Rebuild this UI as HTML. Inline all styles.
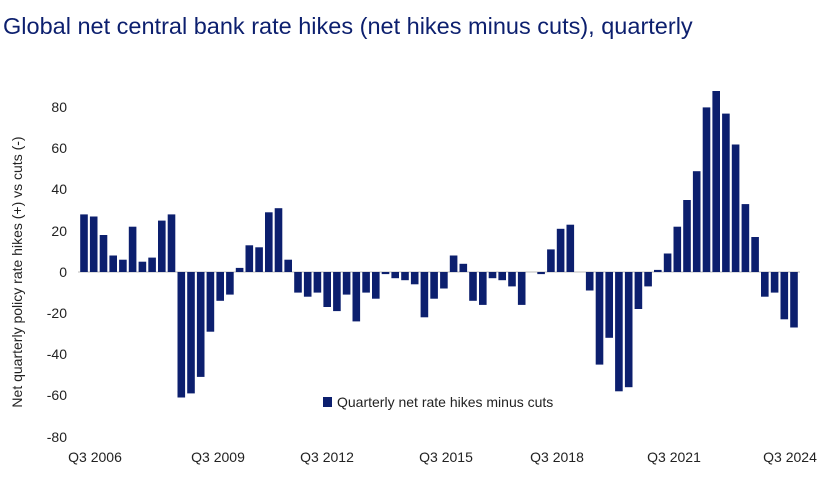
<!DOCTYPE html>
<html><head><meta charset="utf-8"><style>
body{margin:0;background:#fff;width:840px;height:472px;overflow:hidden;font-family:"Liberation Sans",sans-serif;}
</style></head><body>
<svg width="840" height="472" xmlns="http://www.w3.org/2000/svg" font-family="Liberation Sans, sans-serif">
<text x="3" y="34" font-size="23.5" fill="#0c1f6e">Global net central bank rate hikes (net hikes minus cuts), quarterly</text>
<g font-size="14" fill="#222" text-anchor="end">
<text x="67" y="112">80</text><text x="67" y="153">60</text><text x="67" y="194">40</text><text x="67" y="236">20</text><text x="67" y="277">0</text><text x="67" y="318">-20</text><text x="67" y="359">-40</text><text x="67" y="400">-60</text><text x="67" y="442">-80</text>
</g>
<text transform="translate(22,272) rotate(-90)" font-size="14" fill="#222" text-anchor="middle">Net quarterly policy rate hikes (+) vs cuts (-)</text>
<line x1="78" y1="272" x2="800" y2="272" stroke="#bbb" stroke-width="1"/>
<g fill="#0c1f6e">
<rect x="80.2" y="214.4" width="7.6" height="57.6"/>
<rect x="89.9" y="216.5" width="7.6" height="55.5"/>
<rect x="99.7" y="235.0" width="7.6" height="37.0"/>
<rect x="109.4" y="255.5" width="7.6" height="16.5"/>
<rect x="119.1" y="259.7" width="7.6" height="12.3"/>
<rect x="128.8" y="226.7" width="7.6" height="45.3"/>
<rect x="138.6" y="261.7" width="7.6" height="10.3"/>
<rect x="148.3" y="257.6" width="7.6" height="14.4"/>
<rect x="158.0" y="220.6" width="7.6" height="51.4"/>
<rect x="167.7" y="214.4" width="7.6" height="57.6"/>
<rect x="177.5" y="272" width="7.6" height="125.5"/>
<rect x="187.2" y="272" width="7.6" height="121.4"/>
<rect x="196.9" y="272" width="7.6" height="104.9"/>
<rect x="206.6" y="272" width="7.6" height="59.7"/>
<rect x="216.4" y="272" width="7.6" height="28.8"/>
<rect x="226.1" y="272" width="7.6" height="22.6"/>
<rect x="235.8" y="267.9" width="7.6" height="4.1"/>
<rect x="245.5" y="245.3" width="7.6" height="26.7"/>
<rect x="255.3" y="247.3" width="7.6" height="24.7"/>
<rect x="265.0" y="212.3" width="7.6" height="59.7"/>
<rect x="274.7" y="208.2" width="7.6" height="63.8"/>
<rect x="284.4" y="259.7" width="7.6" height="12.3"/>
<rect x="294.2" y="272" width="7.6" height="20.6"/>
<rect x="303.9" y="272" width="7.6" height="24.7"/>
<rect x="313.6" y="272" width="7.6" height="20.6"/>
<rect x="323.4" y="272" width="7.6" height="35.0"/>
<rect x="333.1" y="272" width="7.6" height="39.1"/>
<rect x="342.8" y="272" width="7.6" height="22.6"/>
<rect x="352.5" y="272" width="7.6" height="49.4"/>
<rect x="362.3" y="272" width="7.6" height="20.6"/>
<rect x="372.0" y="272" width="7.6" height="26.7"/>
<rect x="381.7" y="272" width="7.6" height="2.1"/>
<rect x="391.4" y="272" width="7.6" height="6.2"/>
<rect x="401.2" y="272" width="7.6" height="8.2"/>
<rect x="410.9" y="272" width="7.6" height="12.3"/>
<rect x="420.6" y="272" width="7.6" height="45.3"/>
<rect x="430.3" y="272" width="7.6" height="26.7"/>
<rect x="440.1" y="272" width="7.6" height="16.5"/>
<rect x="449.8" y="255.5" width="7.6" height="16.5"/>
<rect x="459.5" y="263.8" width="7.6" height="8.2"/>
<rect x="469.2" y="272" width="7.6" height="28.8"/>
<rect x="479.0" y="272" width="7.6" height="32.9"/>
<rect x="488.7" y="272" width="7.6" height="6.2"/>
<rect x="498.4" y="272" width="7.6" height="8.2"/>
<rect x="508.2" y="272" width="7.6" height="14.4"/>
<rect x="517.9" y="272" width="7.6" height="32.9"/>
<rect x="537.3" y="272" width="7.6" height="2.1"/>
<rect x="547.1" y="249.4" width="7.6" height="22.6"/>
<rect x="556.8" y="228.8" width="7.6" height="43.2"/>
<rect x="566.5" y="224.7" width="7.6" height="47.3"/>
<rect x="585.9" y="272" width="7.6" height="18.5"/>
<rect x="595.7" y="272" width="7.6" height="92.6"/>
<rect x="605.4" y="272" width="7.6" height="65.8"/>
<rect x="615.1" y="272" width="7.6" height="119.3"/>
<rect x="624.9" y="272" width="7.6" height="115.2"/>
<rect x="634.6" y="272" width="7.6" height="37.0"/>
<rect x="644.3" y="272" width="7.6" height="14.4"/>
<rect x="654.0" y="269.9" width="7.6" height="2.1"/>
<rect x="663.8" y="253.5" width="7.6" height="18.5"/>
<rect x="673.5" y="226.7" width="7.6" height="45.3"/>
<rect x="683.2" y="200.0" width="7.6" height="72.0"/>
<rect x="692.9" y="171.2" width="7.6" height="100.8"/>
<rect x="702.7" y="107.4" width="7.6" height="164.6"/>
<rect x="712.4" y="91.0" width="7.6" height="181.0"/>
<rect x="722.1" y="113.6" width="7.6" height="158.4"/>
<rect x="731.8" y="144.5" width="7.6" height="127.5"/>
<rect x="741.6" y="204.1" width="7.6" height="67.9"/>
<rect x="751.3" y="237.0" width="7.6" height="35.0"/>
<rect x="761.0" y="272" width="7.6" height="24.7"/>
<rect x="770.8" y="272" width="7.6" height="20.6"/>
<rect x="780.5" y="272" width="7.6" height="47.3"/>
<rect x="790.2" y="272" width="7.6" height="55.5"/>
</g>
<g font-size="14" fill="#222" text-anchor="middle">
<text x="95" y="462">Q3 2006</text><text x="218" y="462">Q3 2009</text><text x="327" y="462">Q3 2012</text><text x="446" y="462">Q3 2015</text><text x="557" y="462">Q3 2018</text><text x="674" y="462">Q3 2021</text><text x="790" y="462">Q3 2024</text>
</g>
<rect x="323" y="397" width="9" height="10" fill="#0c1f6e"/>
<text x="337" y="407" font-size="14" fill="#222">Quarterly net rate hikes minus cuts</text>
</svg>
</body></html>
